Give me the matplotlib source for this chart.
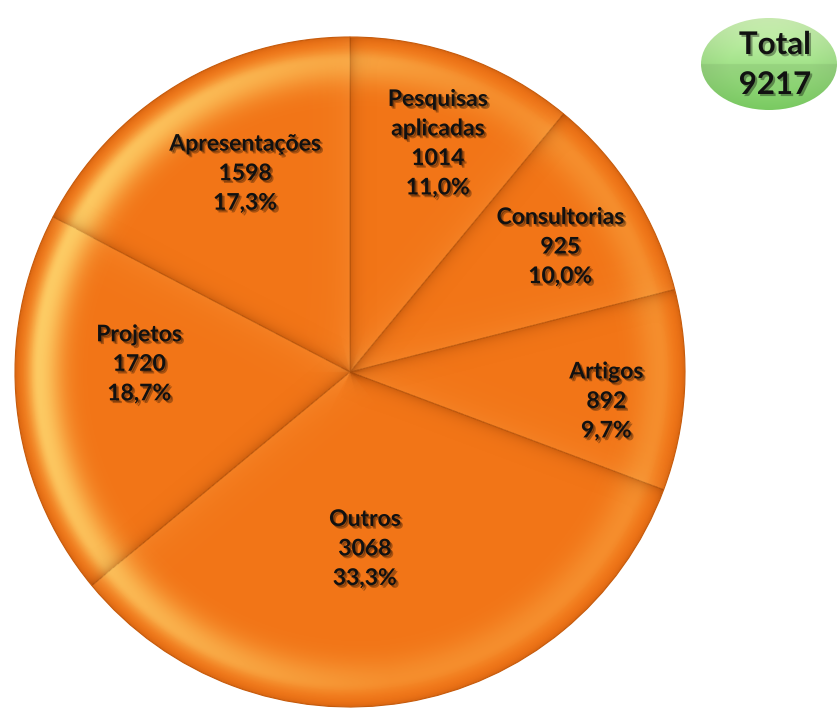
import numpy as np
import matplotlib
matplotlib.use("Agg")
import matplotlib.pyplot as plt
from matplotlib import patheffects as pe
from matplotlib.patches import Circle, Ellipse

# --- data -------------------------------------------------------------
categories = ["Pesquisas\naplicadas", "Consultorias", "Artigos",
              "Outros", "Projetos", "Apresentações"]
counts = [1014, 925, 892, 3068, 1720, 1598]
percent_labels = ["11,0%", "10,0%", "9,7%", "33,3%", "18,7%", "17,3%"]
total_label = "Total"
total_value = 9217

# --- layout of the value labels inside the slices ---------------------
label_radius = [0.73, 0.73, 0.77, 0.53, 0.63, 0.67]
label_angle_shift = [1.2, 1.6, 3.4, 4.7, 8.1, 3.3]   # degrees, clockwise

W, H = 838, 708
fig = plt.figure(figsize=(W / 100, H / 100), dpi=100)
fig.patch.set_facecolor("white")

cx, cy, R = 350, 372, 335
ax = fig.add_axes([(cx - R) / W, (H - cy - R) / H, 2 * R / W, 2 * R / H])
ax.axis("off")

base = (0.95, 0.46, 0.09)
wedges, _ = ax.pie(counts, startangle=90, counterclock=False, radius=1,
                   colors=[base] * len(counts),
                   wedgeprops=dict(edgecolor=(0.78, 0.36, 0.05), linewidth=0.8))

# --- bevel shading over the pie ---------------------------------------
n = 900
g = np.linspace(-1, 1, n)
X, Y = np.meshgrid(g, g[::-1])
r = np.hypot(X, Y)
phi = np.degrees(np.arctan2(Y, X))             # standard angle
theta = (90 - phi) % 360                       # clockwise from top

# rim highlight, strongest on the left
bump = np.where(r < 0.93,
                np.exp(-((r - 0.93) / 0.07) ** 2),
                np.exp(-((r - 0.93) / 0.035) ** 2))
side = 0.45 + 0.55 * np.clip(np.cos(np.radians(phi - 170)), -0.3, 1)
light_a = np.clip(bump * side * 0.85, 0, 1)
light = np.zeros((n, n, 4))
light[..., 0] = 1.0
light[..., 1] = 0.86
light[..., 2] = 0.45
light[..., 3] = np.where(r <= 1, light_a, 0)

# creases along the slice boundaries
bounds = 360 * np.cumsum([0] + counts[:-1]) / sum(counts)
shade_a = np.zeros_like(r)
glow_a = np.zeros_like(r)
for b in bounds:
    d = np.radians(((theta - b + 180) % 360) - 180)
    s = r * np.sin(d)
    front = (np.abs(d) < np.pi / 2)
    shade_a += np.where(front & (s > 0), 0.35 * np.exp(-s / 0.018), 0)
    glow_a += np.where(front & (s < 0), 0.18 * np.exp(s / 0.05), 0)
# darker outer edge
shade_a += 0.25 * np.exp(-((1 - r) / 0.012))
shade_a = np.clip(shade_a, 0, 0.6)
shade = np.zeros((n, n, 4))
shade[..., 0] = 0.55
shade[..., 1] = 0.22
shade[..., 2] = 0.0
shade[..., 3] = np.where(r <= 1, shade_a, 0)

glow = np.zeros((n, n, 4))
glow[..., 0] = 1.0
glow[..., 1] = 0.7
glow[..., 2] = 0.35
glow[..., 3] = np.where(r <= 1, np.clip(glow_a, 0, 0.4), 0)

clip = Circle((0, 0), 1, transform=ax.transData)
for layer in (glow, light, shade):
    im = ax.imshow(layer, extent=(-1, 1, -1, 1), zorder=3, interpolation="bilinear")
    im.set_clip_path(clip)

# --- slice labels -----------------------------------------------------
total = sum(counts)
starts = 360 * np.cumsum([0] + counts[:-1]) / total
shadow = [pe.SimplePatchShadow(offset=(2, -2), shadow_rgbFace="black", alpha=0.3),
          pe.SimplePatchShadow(offset=(1, -1), shadow_rgbFace="black", alpha=0.3),
          pe.Normal()]
for cat, val, pct, st, lr, sh in zip(categories, counts, percent_labels,
                                     starts, label_radius, label_angle_shift):
    mid = st + 180 * val / total + sh
    a = np.radians(90 - mid)
    ax.text(lr * np.cos(a), lr * np.sin(a), f"{cat}\n{val}\n{pct}",
            ha="center", va="center", fontsize=16.5, fontweight="bold",
            family="Lato", color="#111111", linespacing=1.5,
            zorder=5, path_effects=shadow)

ax.set_xlim(-1, 1)
ax.set_ylim(-1, 1)
ax.set_aspect("equal")

# --- total badge ------------------------------------------------------
ov = fig.add_axes([0, 0, 1, 1])
ov.axis("off")
ov.patch.set_alpha(0)

ex, ey, ew, eh = 769, 64, 136, 92
ell = Ellipse((ex, ey), ew, eh, facecolor="none", edgecolor="none")
ov.add_patch(ell)
m = 200
yy = np.linspace(0, 1, m)[:, None] * np.ones((1, m))
xx = np.ones((m, 1)) * np.linspace(0, 1, m)[None, :]
top = np.array([0.82, 0.96, 0.72])
midc = np.array([0.64, 0.89, 0.54])
bot = np.array([0.50, 0.83, 0.40])
t = yy[..., None]
grad = np.where(t < 0.5, top + (midc - top) * (t / 0.5),
                midc * 0.93 + (bot - midc * 0.93) * ((t - 0.5) / 0.5))
edge = np.hypot((xx - 0.5) / 0.5, (yy - 0.5) / 0.5)[..., None]
grad = grad * (1 - 0.12 * np.clip(edge - 0.6, 0, 1))
grad = np.clip(grad, 0, 1)
bim = ov.imshow(grad, extent=(ex - ew / 2, ex + ew / 2, ey + eh / 2, ey - eh / 2),
                zorder=2, interpolation="bilinear")
bim.set_clip_path(ell)

badge_fx = [pe.SimplePatchShadow(offset=(1.5, -1.5), shadow_rgbFace="black", alpha=0.35),
            pe.Normal()]
ov.text(775, 45, total_label, ha="center", va="center", fontsize=22.5,
        fontweight="bold", family="Lato", color="#111111", zorder=4,
        path_effects=badge_fx)
ov.text(775, 85, f"{total_value}", ha="center", va="center", fontsize=22.5,
        fontweight="bold", family="Lato", color="#111111", zorder=4,
        path_effects=badge_fx)

ov.set_xlim(0, W)
ov.set_ylim(H, 0)
ov.set_aspect("auto")

fig.savefig("out.png", dpi=100, facecolor="white")
